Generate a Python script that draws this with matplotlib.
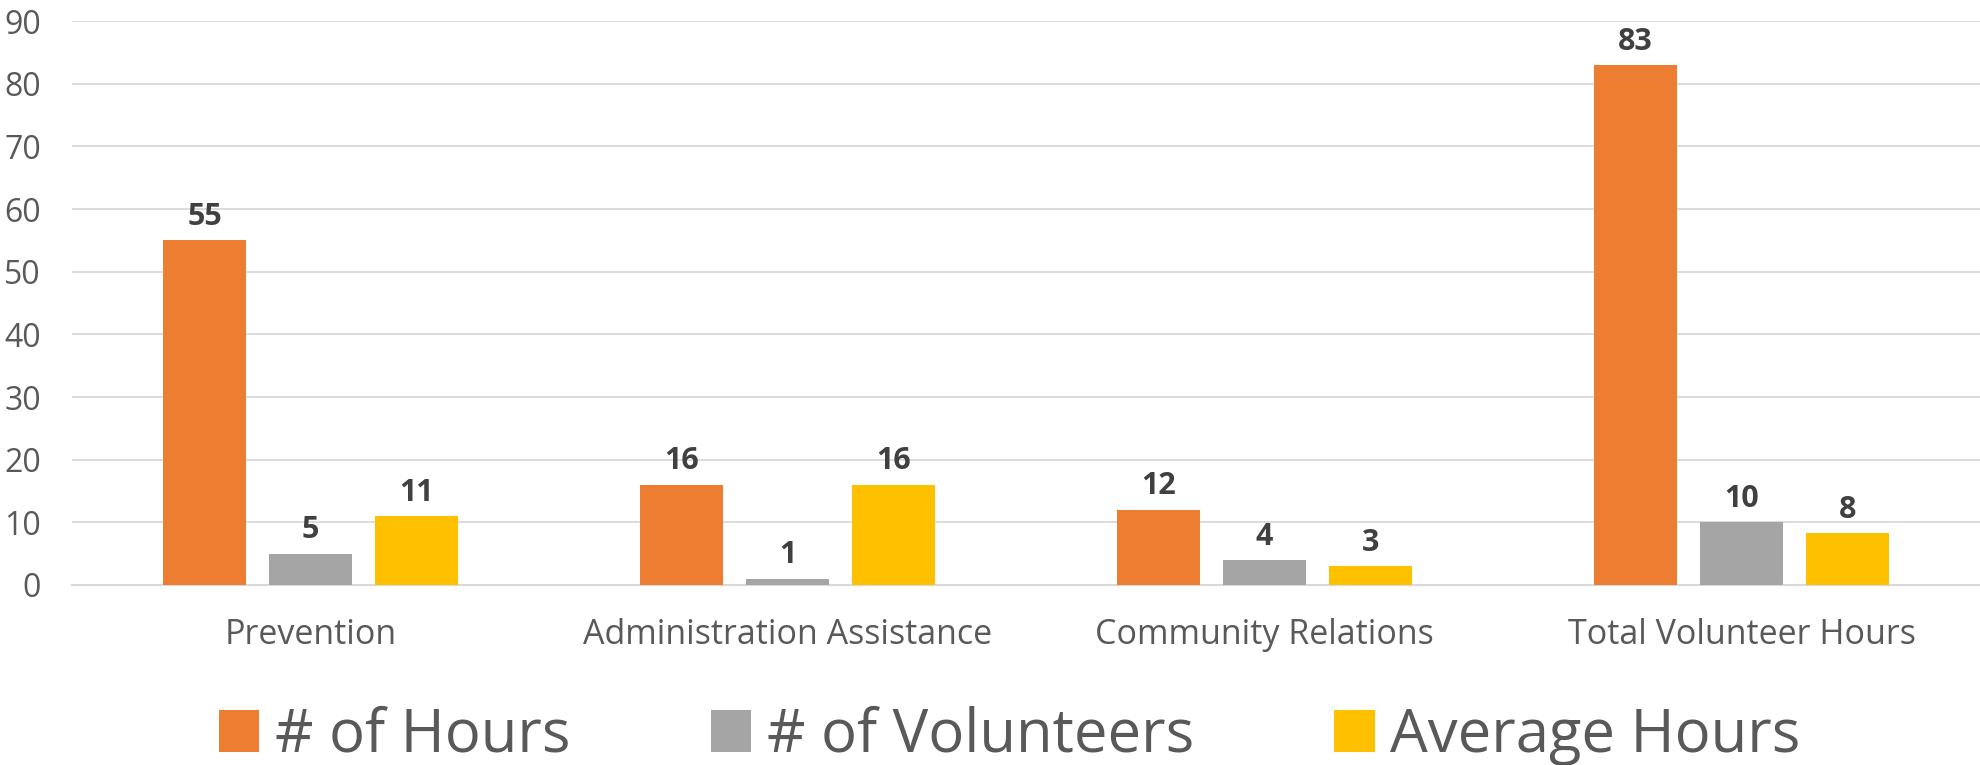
import matplotlib.pyplot as plt
import numpy as np

categories = ["Prevention", "Administration Assistance", "Community Relations", "Total Volunteer Hours"]
hours = [55, 16, 12, 83]
volunteers = [5, 1, 4, 10]
avg_hours = [11, 16, 3, 8.3]
avg_labels = ["11", "16", "3", "8"]

series = [
    ("# of Hours", hours, [str(v) for v in hours], "#ED7D31"),
    ("# of Volunteers", volunteers, [str(v) for v in volunteers], "#A5A5A5"),
    ("Average Hours", avg_hours, avg_labels, "#FFC000"),
]

plt.rcParams['font.family'] = ['Open Sans', 'DejaVu Sans']

fig = plt.figure(figsize=(19.8, 7.65), dpi=100)
ax = fig.add_axes([0.0364, 0.2353, 0.9636, 0.7372])

x = np.arange(len(categories))
width = 0.174
step = 0.222

for i, (name, vals, labels, color) in enumerate(series):
    pos = x + (i - 1) * step
    bars = ax.bar(pos, vals, width, color=color, label=name, zorder=3)
    for b, lab in zip(bars, labels):
        ax.annotate(lab, (b.get_x() + b.get_width() / 2, b.get_height()),
                    xytext=(0, 6), textcoords="offset points",
                    ha="center", va="bottom", fontsize=22, fontweight="bold",
                    color="#404040")

ax.set_xlim(-0.5, 3.5)
ax.set_ylim(0, 90)
ax.set_yticks(range(0, 91, 10))
ax.set_xticks(x)
ax.set_xticklabels(categories)
ax.tick_params(axis="both", length=0, colors="#595959")
ax.tick_params(axis="x", pad=24, labelsize=24.5)
ax.tick_params(axis="y", pad=22.5, labelsize=23)
ax.grid(axis="y", color="#D9D9D9", linewidth=1.3, zorder=0)
for s in ["top", "right", "left"]:
    ax.spines[s].set_visible(False)
ax.spines["bottom"].set_color("#D9D9D9")
ax.spines["bottom"].set_linewidth(1.5)

fig.legend(loc="center", bbox_to_anchor=(0.51, 0.038), ncol=3, frameon=False,
           fontsize=43, labelcolor="#595959", handlelength=0.68, handleheight=0.68,
           columnspacing=2.35, handletextpad=0.26, borderpad=0, borderaxespad=0)

fig.savefig("out.png", dpi=100)
